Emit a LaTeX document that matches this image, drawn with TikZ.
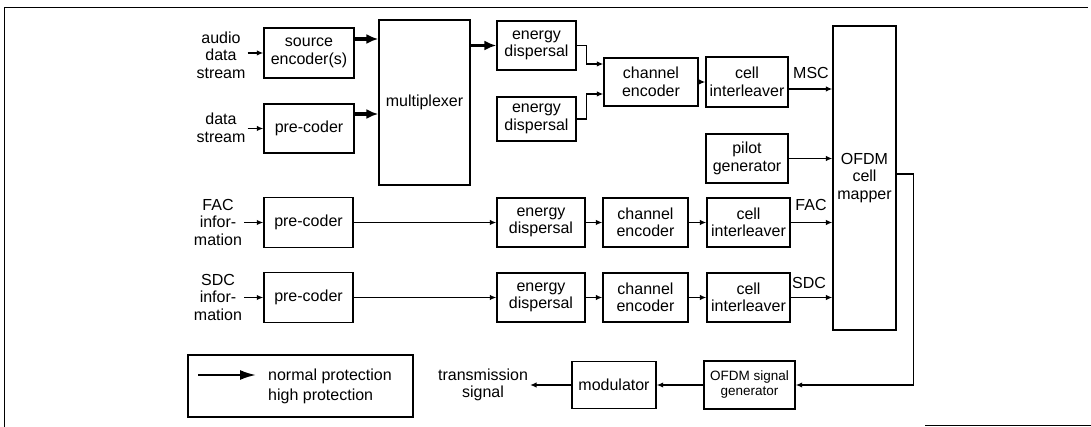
\documentclass[tikz,border=0pt]{standalone}
\usepackage{fontspec}
\setmainfont{Liberation Sans}
\usetikzlibrary{arrows.meta}

\begin{document}
\begin{tikzpicture}[x=1pt,y=-1pt,
  every node/.style={font=\fontsize{16}{17.5}\selectfont},
  blk/.style={draw,line width=1.4pt,align=center,inner sep=0pt},
  lbl/.style={align=center,inner sep=2pt},
  arr/.style={line width=1.3pt,-{Latex[length=6.5pt,width=5.5pt]}},
  bigarr/.style={line width=3.2pt,-{Latex[length=12pt,width=10pt]}}]
\useasboundingbox (0,0) rectangle (1091,427);
\draw[line width=0.8pt] (4,427) -- (4,7) -- (1088,7);
\draw[line width=0.8pt] (925,425) -- (1091,425);

\node[lbl] (audio) at (221,55) {audio\\data\\stream};
\node[lbl] (datstr) at (221,128) {data\\stream};
\node[lbl] (facin) at (218,222) {FAC\\infor-\\mation};
\node[lbl] (sdcin) at (218,297) {SDC\\infor-\\mation};

\node[blk,minimum width=90,minimum height=50] (srcenc) at (309,53) {source\\encoder(s)};
\node[blk,minimum width=90,minimum height=49] (datpre) at (309,128.5) {pre-coder};
\node[blk,minimum width=91,minimum height=165] (mux) at (424.5,102.5) {multiplexer};
\node[blk,minimum width=79,minimum height=49] (msced1) at (536.5,45.5) {energy\\dispersal};
\node[blk,minimum width=79,minimum height=44] (msced2) at (536.5,119) {energy\\dispersal};
\node[blk,minimum width=94,minimum height=48] (mscce) at (651,82) {channel\\encoder};
\node[blk,minimum width=82,minimum height=50] (mscci) at (747,82) {cell\\interleaver};
\node[blk,minimum width=82,minimum height=49] (pilot) at (747,158.5) {pilot\\generator};
\node[blk,minimum width=63,minimum height=304] (mapper) at (864.5,178) {OFDM\\cell\\mapper};

\node[blk,minimum width=89,minimum height=50] (facpre) at (308.5,222.5) {pre-coder};
\node[blk,minimum width=88,minimum height=49] (faced) at (541,222.5) {energy\\dispersal};
\node[blk,minimum width=85,minimum height=49] (facce) at (645.5,222.5) {channel\\encoder};
\node[blk,minimum width=83,minimum height=49] (facci) at (748.5,222.5) {cell\\interleaver};

\node[blk,minimum width=89,minimum height=50] (sdcpre) at (308.5,297.5) {pre-coder};
\node[blk,minimum width=88,minimum height=49] (sdced) at (541,297.5) {energy\\dispersal};
\node[blk,minimum width=85,minimum height=49] (sdcce) at (645.5,297.5) {channel\\encoder};
\node[blk,minimum width=83,minimum height=49] (sdcci) at (748.5,297.5) {cell\\interleaver};

\node[lbl] (msclab) at (811,73) {MSC};
\node[lbl] (faclab) at (811,205) {FAC};
\node[lbl] (sdclab) at (809,283) {SDC};

\node[blk,minimum width=91,minimum height=48,font=\fontsize{13.5}{15}\selectfont] (ofdmgen) at (749.5,385) {OFDM signal\\generator};
\node[blk,minimum width=84,minimum height=47] (modul) at (614,385) {modulator};
\node[lbl] (txsig) at (483,385) {transmission\\signal};

\node[blk,minimum width=225,minimum height=62] (legend) at (300.5,386) {};
\coordinate (legA) at (198,375);
\coordinate (legB) at (256,375);
\node[anchor=west,inner sep=0pt] (lnorm) at (268,376) {normal protection};
\node[anchor=west,inner sep=0pt] (lhigh) at (268,396) {high protection};

\draw[arr] (audio.east |- srcenc.west) -- (srcenc.west);
\draw[arr] (datstr.east |- datpre.west) -- (datpre.west);
\draw[arr] (facin.east |- facpre.west) -- (facpre.west);
\draw[arr] (sdcin.east |- sdcpre.west) -- (sdcpre.west);

\draw[bigarr] ([yshift=14pt]srcenc.east) -- ([yshift=14pt]srcenc.east -| mux.west);
\draw[bigarr] ([yshift=14.5pt]datpre.east) -- ([yshift=14.5pt]datpre.east -| mux.west);
\draw[bigarr] (mux.east |- msced1.west) -- (msced1.west);
\draw[arr] (msced1.east) -- ++(10,0) |- ([yshift=18pt]mscce.west);
\draw[arr] (msced2.east) -- ++(10,0) |- ([yshift=-12pt]mscce.west);
\draw[arr] (mscce.east) -- (mscci.west);
\draw[arr] ([yshift=-7pt]mscci.east) -- ([yshift=-7pt]mscci.east -| mapper.west);
\draw[arr] (pilot.east) -- (pilot.east -| mapper.west);

\draw[arr] (facpre.east) -- (faced.west);
\draw[arr] (faced.east) -- (facce.west);
\draw[arr] (facce.east) -- (facci.west);
\draw[arr] (facci.east) -- (facci.east -| mapper.west);

\draw[arr] (sdcpre.east) -- (sdced.west);
\draw[arr] (sdced.east) -- (sdcce.west);
\draw[arr] (sdcce.east) -- (sdcci.west);
\draw[arr] (sdcci.east) -- (sdcci.east -| mapper.west);

\draw[arr] ([yshift=4pt]mapper.east) -- ++(17,0) |- (ofdmgen.east);
\draw[arr] (ofdmgen.west) -- (modul.east);
\draw[arr] (modul.west) -- (txsig.east);

\draw[line width=2pt,-{Latex[length=16pt,width=10pt]}] (legA) -- (legB);
\end{tikzpicture}
\end{document}
